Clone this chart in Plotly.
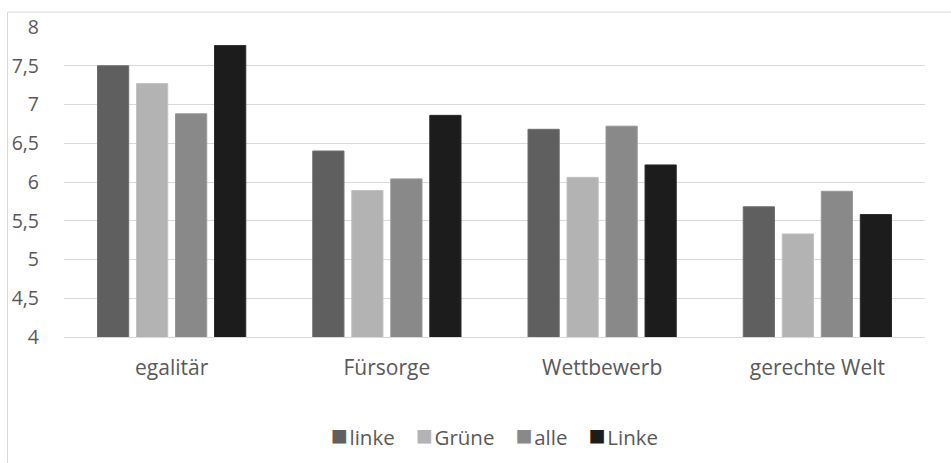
import plotly.graph_objects as go

categories = ["egalitär", "Fürsorge", "Wettbewerb", "gerechte Welt"]
series_names = ["linke", "Grüne", "alle", "Linke"]
linke = [7.50, 6.40, 6.68, 5.68]
gruene = [7.27, 5.89, 6.06, 5.33]
alle = [6.88, 6.04, 6.72, 5.88]
Linke = [7.76, 6.86, 6.22, 5.58]
y_ticks = [4, 4.5, 5, 5.5, 6, 6.5, 7, 7.5, 8]

values = [linke, gruene, alle, Linke]
colors = ["#5f5f5f", "#b3b3b3", "#898989", "#1c1c1c"]
edges = ["#6e6e6e", "#c2c2c2", "#989898", "#2a2a2a"]

font_family = "'Open Sans', sans-serif"
text_color = "#595959"

fig = go.Figure()
for name, vals, col, edge in zip(series_names, values, colors, edges):
    fig.add_trace(go.Bar(
        name=name, x=categories, y=vals, showlegend=False,
        marker=dict(color=col, line=dict(color=edge, width=1)),
    ))

# compact legend: coloured squares right before each series name
legend_html = "&nbsp;&nbsp;&nbsp;&nbsp;".join(
    f"<span style='color:{c};font-size:28px'>■</span>"
    f"<span style='font-size:6px'>&nbsp;</span>{n}"
    for n, c in zip(series_names, colors)
)

fig.update_layout(
    width=951, height=463,
    margin=dict(l=64, r=26, t=27, b=126),
    paper_bgcolor="white", plot_bgcolor="white",
    barmode="group", bargap=0.275, bargroupgap=0.2,
    separators=",.",
    font=dict(family=font_family, size=20, color=text_color),
    xaxis=dict(showgrid=False, showline=True, linecolor="#d9d9d9", linewidth=1,
               ticks="", ticklabelstandoff=12, tickfont=dict(size=21)),
    yaxis=dict(range=[4, 8], tickvals=y_ticks, showgrid=True, gridcolor="#d9d9d9",
               gridwidth=1, zeroline=False, ticks="", ticklabelstandoff=24,
               tickfont=dict(size=19.5)),
    annotations=[dict(text=legend_html, xref="paper", yref="paper", x=0.5, y=-0.313,
                      xanchor="center", yanchor="middle", showarrow=False,
                      font=dict(size=20.5, color=text_color))],
    shapes=[dict(type="rect", xref="paper", yref="paper",
                 x0=-0.0656, x1=1.2, y0=-0.6, y1=1.048,
                 line=dict(color="#d9d9d9", width=1), fillcolor="rgba(0,0,0,0)",
                 layer="below")],
)

fig.write_html("out.html")
